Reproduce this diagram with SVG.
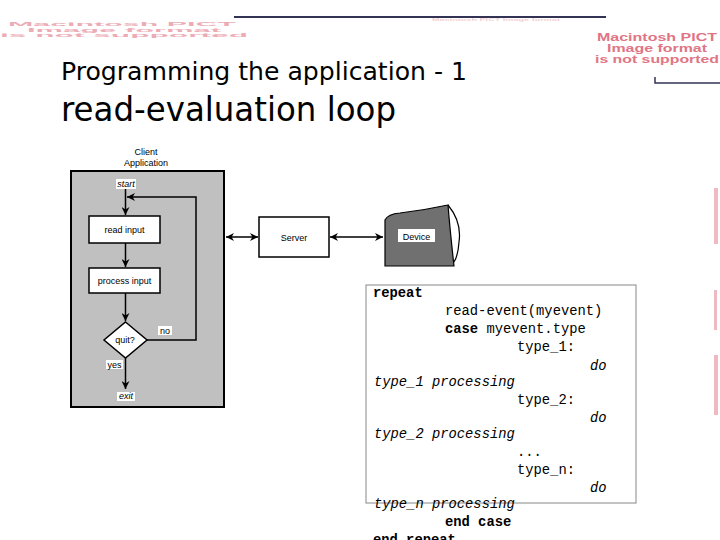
<svg xmlns="http://www.w3.org/2000/svg" width="720" height="540" viewBox="0 0 720 540">
<defs>
<style>
.pink{font-family:"Liberation Sans",Arial,sans-serif;font-weight:bold;fill:#e07585}
.title{font-family:"DejaVu Sans","Comic Sans MS",sans-serif;fill:#000}
.lbl{font-family:"Liberation Sans",Arial,sans-serif;font-size:9px;fill:#000}
.box{fill:#fff;stroke:#000;stroke-width:1.5}
.ln{fill:none;stroke:#000;stroke-width:1.5}
.code{font-family:"Liberation Mono","Courier New",monospace;font-size:13.8px;fill:#000}
.b{font-weight:bold}
.i{font-style:italic}
.tag{fill:#fff}
</style>
<marker id="ah" viewBox="0 0 10 10" refX="10" refY="5" markerWidth="8" markerHeight="8" orient="auto-start-reverse" markerUnits="userSpaceOnUse">
<path d="M0,0 L10,5 L0,10 L3,5 Z" fill="#000"/>
</marker>
</defs>
<rect width="720" height="540" fill="#fff"/>

<!-- decorative lines -->
<line x1="234" y1="17" x2="606" y2="17" stroke="#333355" stroke-width="2"/>
<path d="M655,77 V83 H720" fill="none" stroke="#333355" stroke-width="1.5"/>

<!-- faded PICT placeholders -->
<g id="pict-left" opacity="0.6">
<g transform="translate(0,26) scale(1,0.5)">
<text class="pink" x="122" y="0" font-size="12" text-anchor="middle" textLength="228" lengthAdjust="spacingAndGlyphs">Macintosh PICT</text>
<text class="pink" x="124" y="11" font-size="12" text-anchor="middle" textLength="194" lengthAdjust="spacingAndGlyphs">Image format</text>
<text class="pink" x="124" y="22" font-size="12" text-anchor="middle" textLength="248" lengthAdjust="spacingAndGlyphs">is not supported</text>
</g>
</g>
<g id="pict-top" opacity="0.35">
<g transform="translate(0,21) scale(1,0.35)">
<text class="pink" x="496" y="0" font-size="12" text-anchor="middle" textLength="128" lengthAdjust="spacingAndGlyphs">Macintosh PICT Image format</text>
</g>
</g>
<g id="pict-right">
<text class="pink" x="657" y="41" font-size="11" text-anchor="middle" textLength="120" lengthAdjust="spacingAndGlyphs">Macintosh PICT</text>
<text class="pink" x="657" y="52" font-size="11" text-anchor="middle" textLength="100" lengthAdjust="spacingAndGlyphs">Image format</text>
<text class="pink" x="657" y="63" font-size="11" text-anchor="middle" textLength="124" lengthAdjust="spacingAndGlyphs">is not supported</text>
</g>
<g id="pict-edge" fill="#e07585" opacity="0.5">
<rect x="714" y="188" width="4" height="56"/>
<rect x="714" y="290" width="3" height="40"/>
<rect x="714" y="355" width="4" height="60"/>
</g>

<!-- titles -->
<text class="title" x="61" y="80" font-size="24" textLength="406" lengthAdjust="spacingAndGlyphs">Programming the application - 1</text>
<text class="title" x="61" y="121" font-size="34" textLength="335" lengthAdjust="spacingAndGlyphs">read-evaluation loop</text>

<!-- diagram -->
<g id="client">
<text class="lbl" x="146" y="155" text-anchor="middle" font-size="10">Client</text>
<text class="lbl" x="146" y="166" text-anchor="middle" font-size="10">Application</text>
<rect x="71" y="171" width="153" height="236" fill="#c0c0c0" stroke="#000" stroke-width="2"/>
</g>
<g id="start">
<rect class="tag" x="116" y="179" width="20" height="10"/>
<text class="lbl i" x="126" y="187" text-anchor="middle" font-size="8">start</text>
</g>
<g id="read-input">
<rect class="box" x="89" y="216" width="71" height="27"/>
<text class="lbl" x="124.5" y="233" text-anchor="middle" font-size="8">read input</text>
</g>
<g id="process-input">
<rect class="box" x="89" y="268" width="71" height="25"/>
<text class="lbl" x="124.5" y="284" text-anchor="middle" font-size="9">process input</text>
</g>
<g id="quit">
<path d="M125.5,322 L147,340 L125.5,358 L104,340 Z" fill="#fff" stroke="#000" stroke-width="1.5"/>
<text class="lbl" x="125" y="343" text-anchor="middle" font-size="9">quit?</text>
</g>
<g id="exit">
<rect class="tag" x="117" y="392" width="18" height="9"/>
<text class="lbl i" x="126" y="399" text-anchor="middle" font-size="7.5">exit</text>
</g>
<g id="server">
<rect class="box" x="259" y="217" width="70" height="40"/>
<text class="lbl" x="294" y="241" text-anchor="middle" font-size="10">Server</text>
</g>
<g id="device">
<path d="M448,205 Q462,222 459,242 Q458,256 454,262" fill="#fff" stroke="#000" stroke-width="1.2"/>
<path d="M385,220 Q388,214 400,213 Q425,210 448,205 Q450,230 454,266 L385,266 Z" fill="#707070" stroke="#000" stroke-width="1.2"/>
<rect class="tag" x="398" y="229" width="37" height="13"/>
<text class="lbl" x="416.5" y="239.5" text-anchor="middle" font-size="10">Device</text>
</g>

<g id="connectors">
<line class="ln" x1="125.5" y1="189" x2="125.5" y2="215" marker-end="url(#ah)"/>
<line class="ln" x1="125.5" y1="243" x2="125.5" y2="267" marker-end="url(#ah)"/>
<line class="ln" x1="125.5" y1="293" x2="125.5" y2="321" marker-end="url(#ah)"/>
<path class="ln" d="M147,340 H196 V197 H127" marker-end="url(#ah)"/>
<line class="ln" x1="125.5" y1="358" x2="125.5" y2="389" marker-end="url(#ah)"/>
<line class="ln" x1="226" y1="237" x2="258" y2="237" marker-start="url(#ah)" marker-end="url(#ah)"/>
<line class="ln" x1="330" y1="237" x2="383" y2="237" marker-start="url(#ah)" marker-end="url(#ah)"/>
<rect class="tag" x="158" y="326" width="14" height="9"/>
<text class="lbl" x="165" y="333.5" text-anchor="middle" font-size="8">no</text>
<rect class="tag" x="106" y="360" width="17" height="9"/>
<text class="lbl" x="114.5" y="367.5" text-anchor="middle" font-size="8">yes</text>
</g>

<!-- code -->
<g id="code">
<rect x="366" y="285" width="270" height="218" fill="#fff" stroke="#888" stroke-width="1"/>
<text class="code b" x="373" y="297">repeat</text>
<text class="code" x="445" y="315">read-event(myevent)</text>
<text class="code" x="445" y="333"><tspan class="b">case</tspan> myevent.type</text>
<text class="code" x="517" y="351">type_1:</text>
<text class="code i" x="590" y="370">do</text>
<text class="code i" x="374" y="386">type_1 processing</text>
<text class="code" x="517" y="404">type_2:</text>
<text class="code i" x="590" y="422">do</text>
<text class="code i" x="374" y="438">type_2 processing</text>
<text class="code" x="517" y="456">...</text>
<text class="code" x="517" y="474">type_n:</text>
<text class="code i" x="590" y="492">do</text>
<text class="code i" x="374" y="508">type_n processing</text>
<text class="code b" x="445" y="526">end case</text>
<text class="code b" x="373" y="544">end repeat</text>
</g>
</svg>
